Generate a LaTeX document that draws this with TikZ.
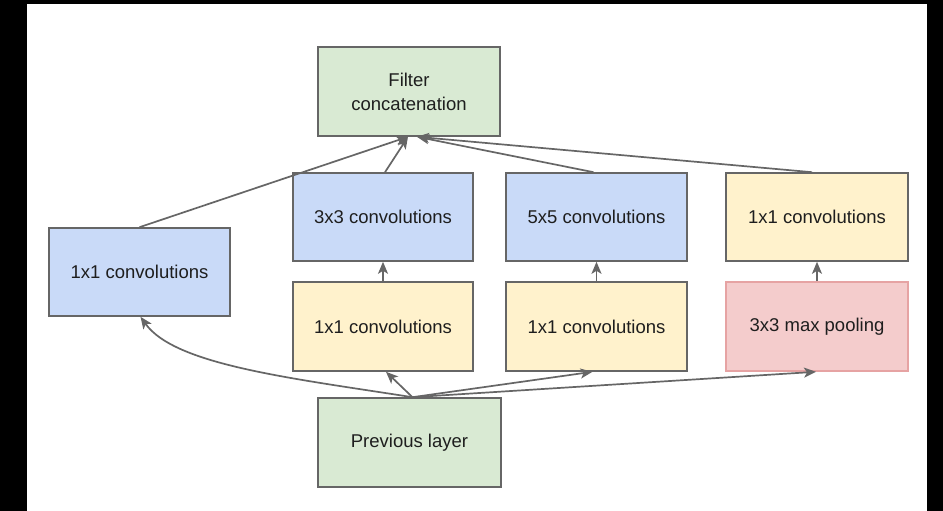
\documentclass[tikz,border=0pt]{standalone}
\usepackage{fontspec}
\setmainfont{Liberation Sans}
\usetikzlibrary{arrows.meta}
\definecolor{gfill}{HTML}{D9EAD3}
\definecolor{bfill}{HTML}{C9DAF8}
\definecolor{yfill}{HTML}{FFF2CC}
\definecolor{pfill}{HTML}{F4CCCC}
\definecolor{pedge}{HTML}{E6A3A3}
\definecolor{edgegrey}{HTML}{666666}
\definecolor{txt}{HTML}{1E1E1E}
\tikzset{
  box/.style={draw=edgegrey, line width=1.6pt, rectangle, minimum width=181pt, minimum height=88pt,
    inner sep=0pt, align=center, text=txt, font=\fontsize{18.5}{24}\selectfont},
  greenbox/.style={box, fill=gfill},
  bluebox/.style={box, fill=bfill},
  yellowbox/.style={box, fill=yfill},
  pinkbox/.style={box, fill=pfill, draw=pedge},
  conn/.style={draw=edgegrey, line width=1.7pt, -{Stealth[length=12pt,width=10pt,inset=3pt]}}
}
\begin{document}
\begin{tikzpicture}[x=1pt,y=-1pt]
\useasboundingbox (0,0) rectangle (943,511);
\fill[white] (0,0) rectangle (943,511);
\fill[black] (0,0) rectangle (27,511);
\fill[black] (927,0) rectangle (943,511);
\fill[black] (0,0) rectangle (943,4);

\node[greenbox, minimum width=182pt, minimum height=89pt] (concat) at (409,91.5) {Filter\\concatenation};
\node[bluebox] (left1) at (139.5,272) {1x1 convolutions};
\node[bluebox, minimum width=180pt] (c3) at (383,217) {3x3 convolutions};
\node[bluebox] (c5) at (596.5,217) {5x5 convolutions};
\node[yellowbox, minimum width=182pt] (r1) at (817,217) {1x1 convolutions};
\node[yellowbox, minimum width=180pt, minimum height=89pt] (y3) at (383,326.5) {1x1 convolutions};
\node[yellowbox, minimum height=89pt] (y5) at (596.5,326.5) {1x1 convolutions};
\node[pinkbox, minimum width=182pt, minimum height=89pt] (pool) at (817,326.5) {3x3 max pooling};
\node[greenbox, minimum width=183pt, minimum height=89pt] (prev) at (409.5,442.5) {Previous layer};

\coordinate (ca) at ([xshift=-1pt]concat.south);
\coordinate (cb) at ([xshift=8pt]concat.south);

% into concatenation
\draw[conn] (left1.north) -- (ca);
\draw[conn] ([xshift=2pt]c3.north) -- (ca);
\draw[conn] ([xshift=-3pt]c5.north) -- (cb);
\draw[conn] ([xshift=-5pt]r1.north) -- (cb);

% vertical
\draw[conn] (y3.north) -- (c3.south);
\draw[conn] (y5.north) -- (c5.south);
\draw[conn] (pool.north) -- (r1.south);

% from previous layer
\draw[conn] ([xshift=3pt]prev.north) .. controls (290,378) and (175,365) .. ([xshift=1pt]left1.south);
\draw[conn] ([xshift=3pt]prev.north) -- ([xshift=3pt]y3.south);
\draw[conn] ([xshift=3pt]prev.north) -- ([xshift=-4pt]y5.south);
\draw[conn] ([xshift=3pt]prev.north) -- ([xshift=-1pt]pool.south);
\end{tikzpicture}
\end{document}
